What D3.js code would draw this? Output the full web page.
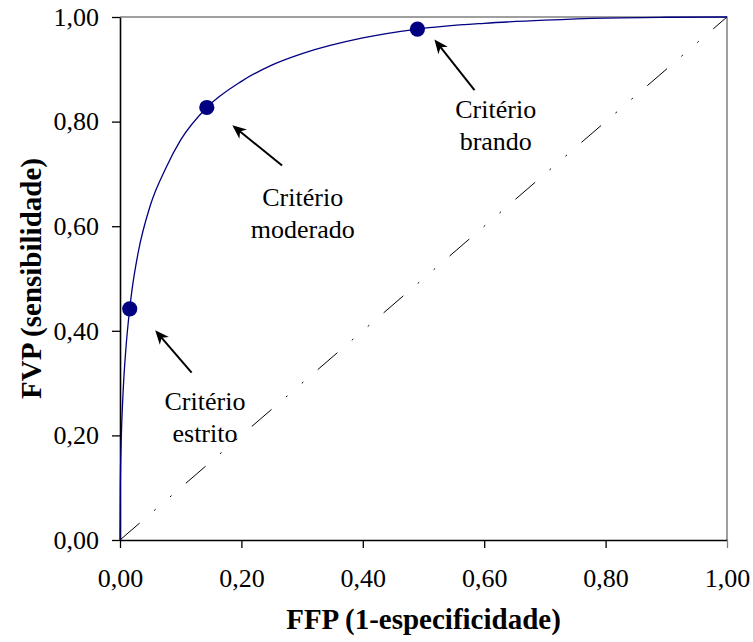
<!DOCTYPE html>
<html>
<head>
<meta charset="utf-8">
<script src="https://cdn.jsdelivr.net/npm/d3@7"></script>
<style>
  body { margin: 0; background: #fff; }
  svg text { font-family: "Liberation Serif", "Times New Roman", Times, "Nimbus Roman", "DejaVu Serif", serif; fill: #000; }
</style>
</head>
<body>
<script>
//settings
var settings = {
  width: 753,
  height: 642,
  left: 120,
  right: 727,
  top: 17,
  bottom: 540,
  font: '"Liberation Serif", "Times New Roman", Times, "Nimbus Roman", "DejaVu Serif", serif'
}

//data
var rocFFP = [0, 0.0005, 0.002, 0.005, 0.01, 0.016, 0.02, 0.03, 0.05, 0.075, 0.10, 0.143, 0.20, 0.25, 0.30, 0.40, 0.49, 0.60, 0.70, 0.80, 0.90, 1.00];
var rocFVP = [0, 0.10, 0.19, 0.28, 0.37, 0.442, 0.48, 0.55, 0.64, 0.71, 0.765, 0.827, 0.877, 0.908, 0.930, 0.960, 0.977, 0.988, 0.994, 0.998, 0.9995, 1.00];

var criterioFFP = [0.016, 0.143, 0.49];
var criterioFVP = [0.442, 0.827, 0.977];

var tickValues = [0, 0.2, 0.4, 0.6, 0.8, 1.0];

var labelLines = [["Critério", "estrito"], ["Critério", "moderado"], ["Critério", "brando"]];
var labelX = [0.140, 0.301, 0.619];
var labelY = [0.249, 0.639, 0.806];

var arrowFrom = [[0.118, 0.320], [0.267, 0.716], [0.584, 0.860]];
var arrowTo = [[0.058, 0.401], [0.185, 0.793], [0.518, 0.957]];

var fmt = function(v) { return d3.format(".2f")(v).replace(".", ","); };

var x = d3.scaleLinear().domain([0, 1]).range([settings.left, settings.right]);
var y = d3.scaleLinear().domain([0, 1]).range([settings.bottom, settings.top]);

var svg = d3.select('body').append('svg')
  .attr('width', settings.width)
  .attr('height', settings.height)
  .attr('font-family', settings.font);

//arrow head
svg.append('defs').append('marker')
  .attr('id', 'head')
  .attr('markerUnits', 'userSpaceOnUse')
  .attr('viewBox', '-10 -8 20 16')
  .attr('markerWidth', 20).attr('markerHeight', 16)
  .attr('refX', 0).attr('refY', 0)
  .attr('orient', 'auto')
  .append('path')
  .attr('d', 'M6,0 L-8,-6 L-4,0 L-8,6 Z')
  .attr('fill', '#000');

//frame (top / right grey)
svg.append('path')
  .attr('d', 'M' + x(0) + ',' + y(1) + 'H' + x(1) + 'V' + y(0))
  .attr('fill', 'none')
  .attr('stroke', '#808080')
  .attr('stroke-width', 1.5);

//diagonal
svg.append('line')
  .attr('x1', x(0)).attr('y1', y(0))
  .attr('x2', x(1)).attr('y2', y(1))
  .attr('stroke', '#000')
  .attr('stroke-width', 1)
  .attr('stroke-dasharray', '26,19,2,19,2,19');

//axes
var xAxis = svg.append('g')
  .attr('transform', 'translate(0,' + settings.bottom + ')')
  .call(d3.axisBottom(x).tickValues(tickValues).tickFormat(fmt).tickSizeInner(8).tickSizeOuter(0).tickPadding(21));
var yAxis = svg.append('g')
  .attr('transform', 'translate(' + settings.left + ',0)')
  .call(d3.axisLeft(y).tickValues(tickValues).tickFormat(fmt).tickSizeInner(8).tickSizeOuter(0).tickPadding(13));

[xAxis, yAxis].forEach(function(a) {
  a.attr('font-family', settings.font).attr('font-size', 26);
  a.select('.domain').attr('stroke', '#000').attr('stroke-width', 1.6);
  a.selectAll('.tick line').attr('stroke', '#000').attr('stroke-width', 1.3);
  a.selectAll('.tick text').attr('fill', '#000');
});
//the 1,00 tick on the right sits under the grey border
xAxis.selectAll('.tick').filter(function(d) { return d === 1; }).select('line').attr('stroke', '#808080');

//roc curve
var rocData = rocFFP.map(function(v, i) { return {x: v, y: rocFVP[i]}; });
svg.append('path')
  .datum(rocData)
  .attr('fill', 'none')
  .attr('stroke', '#000080')
  .attr('stroke-width', 1.3)
  .attr('d', d3.line()
    .x(function(d) { return x(d.x); })
    .y(function(d) { return y(d.y); })
    .curve(d3.curveMonotoneX));

//criterio points
svg.selectAll('.crit')
  .data(criterioFFP)
  .enter()
  .append('circle')
  .attr('class', 'crit')
  .attr('cx', function(d) { return x(d); })
  .attr('cy', function(d, i) { return y(criterioFVP[i]); })
  .attr('r', 7.6)
  .attr('fill', '#000080');

//arrows, line stops a bit short so the head covers its end
function arrowEnd(d, i) {
  var x1 = x(d[0]), y1 = y(d[1]);
  var x2 = x(arrowTo[i][0]), y2 = y(arrowTo[i][1]);
  var len = Math.sqrt((x2 - x1) * (x2 - x1) + (y2 - y1) * (y2 - y1));
  return [x2 - (x2 - x1) / len * 6, y2 - (y2 - y1) / len * 6];
}
svg.selectAll('.arrow')
  .data(arrowFrom)
  .enter()
  .append('line')
  .attr('class', 'arrow')
  .attr('x1', function(d) { return x(d[0]); })
  .attr('y1', function(d) { return y(d[1]); })
  .attr('x2', function(d, i) { return arrowEnd(d, i)[0]; })
  .attr('y2', function(d, i) { return arrowEnd(d, i)[1]; })
  .attr('stroke', '#000')
  .attr('stroke-width', 2)
  .attr('marker-end', 'url(#head)');

//labels
labelLines.forEach(function(lines, i) {
  var t = svg.append('text')
    .attr('x', x(labelX[i]))
    .attr('y', y(labelY[i]))
    .attr('text-anchor', 'middle')
    .attr('font-size', 26);
  lines.forEach(function(s, j) {
    t.append('tspan')
      .attr('x', x(labelX[i]))
      .attr('dy', j === 0 ? 0 : 32)
      .text(s);
  });
});

//axis titles
svg.append('text')
  .attr('x', (settings.left + settings.right) / 2)
  .attr('y', 629)
  .attr('text-anchor', 'middle')
  .attr('font-size', 29)
  .attr('font-weight', 'bold')
  .text('FFP (1-especificidade)');

svg.append('text')
  .attr('transform', 'translate(41,' + (settings.top + settings.bottom) / 2 + ') rotate(-90)')
  .attr('text-anchor', 'middle')
  .attr('font-size', 29)
  .attr('font-weight', 'bold')
  .text('FVP (sensibilidade)');
</script>
</body>
</html>
